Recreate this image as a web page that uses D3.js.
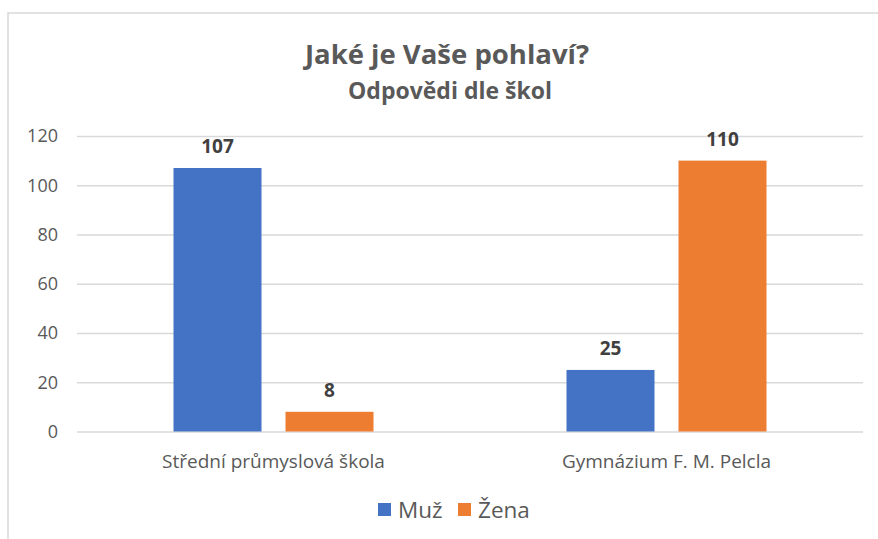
<!DOCTYPE html>
<html>
<head>
<meta charset="utf-8">
<script src="https://cdn.jsdelivr.net/npm/d3@7"></script>
<style>
  body { margin: 0; background: #fff; }
  svg { display: block; font-family: "Open Sans", sans-serif; }
</style>
</head>
<body>
<div id="chart"></div>
<script>
var schools = ['Střední průmyslová škola', 'Gymnázium F. M. Pelcla'];
var seriesNames = ['Muž', 'Žena'];
var muz = [107, 25];
var zena = [8, 110];
var yTicks = [0, 20, 40, 60, 80, 100, 120];

var colors = ['#4472c4', '#ed7d31'];
var width = 878, height = 539;

var plotLeft = 77, plotRight = 863;
var plotTop = 136, plotBottom = 431.5;

var svg = d3.select('#chart').append('svg')
    .attr('width', width)
    .attr('height', height);

// chart border (left + top only visible)
svg.append('path')
    .attr('d', 'M8,' + height + 'V13H' + width)
    .attr('fill', 'none')
    .attr('stroke', '#d9d9d9')
    .attr('stroke-width', 1.5);

var y = d3.scaleLinear().domain([0, 120]).range([plotBottom, plotTop]);
var x = d3.scaleBand().domain(schools).range([plotLeft, plotRight]);
var xInner = d3.scaleBand().domain(seriesNames)
    .range([96.5, 296.5])
    .paddingInner(24 / 112);

// gridlines + y labels
var yAxis = svg.append('g')
    .attr('transform', 'translate(' + plotLeft + ',0)')
    .call(d3.axisLeft(y).tickValues(yTicks).tickSize(-(plotRight - plotLeft)).tickPadding(19));
yAxis.select('.domain').remove();
yAxis.selectAll('.tick line').attr('stroke', '#d9d9d9').attr('stroke-width', 1.3);
yAxis.selectAll('.tick text')
    .attr('fill', '#595959')
    .style('font-size', '18px')
    .style('font-family', '"Open Sans", sans-serif');

// bars
var data = schools.map(function(s, i) {
    return { school: s, values: [muz[i], zena[i]] };
});

var groups = svg.selectAll('g.school')
    .data(data)
    .enter()
    .append('g')
    .attr('class', 'school')
    .attr('transform', function(d) { return 'translate(' + x(d.school) + ',0)'; });

groups.selectAll('rect')
    .data(function(d) { return d.values.map(function(v, j) { return { name: seriesNames[j], value: v, j: j }; }); })
    .enter()
    .append('rect')
    .attr('x', function(d) { return xInner(d.name); })
    .attr('y', function(d) { return y(d.value); })
    .attr('width', xInner.bandwidth())
    .attr('height', function(d) { return plotBottom - y(d.value); })
    .attr('fill', function(d) { return colors[d.j]; });

// data labels
groups.selectAll('text.val')
    .data(function(d) { return d.values.map(function(v, j) { return { name: seriesNames[j], value: v }; }); })
    .enter()
    .append('text')
    .attr('class', 'val')
    .attr('x', function(d) { return xInner(d.name) + xInner.bandwidth() / 2; })
    .attr('y', function(d) { return y(d.value) - 15; })
    .attr('text-anchor', 'middle')
    .attr('fill', '#404040')
    .style('font-size', '19px')
    .style('font-weight', 'bold')
    .text(function(d) { return d.value; });

// category labels
svg.selectAll('text.cat')
    .data(schools)
    .enter()
    .append('text')
    .attr('class', 'cat')
    .attr('x', function(d) { return x(d) + x.bandwidth() / 2; })
    .attr('y', 468)
    .attr('text-anchor', 'middle')
    .attr('fill', '#595959')
    .style('font-size', '19px')
    .text(function(d) { return d; });

// title
svg.append('text')
    .attr('x', 447)
    .attr('y', 64)
    .attr('text-anchor', 'middle')
    .attr('fill', '#595959')
    .style('font-size', '27.5px')
    .style('font-weight', 'bold')
    .text('Jaké je Vaše pohlaví?');

svg.append('text')
    .attr('x', 450)
    .attr('y', 99)
    .attr('text-anchor', 'middle')
    .attr('fill', '#595959')
    .style('font-size', '23px')
    .style('font-weight', 'bold')
    .text('Odpovědi dle škol');

// legend
var legendX = [378, 458];
var legend = svg.selectAll('g.legend')
    .data(seriesNames)
    .enter()
    .append('g')
    .attr('class', 'legend')
    .attr('transform', function(d, i) { return 'translate(' + legendX[i] + ',503)'; });

legend.append('rect')
    .attr('width', 13)
    .attr('height', 13)
    .attr('fill', function(d, i) { return colors[i]; });

legend.append('text')
    .attr('x', 20)
    .attr('y', 15)
    .attr('fill', '#595959')
    .style('font-size', '22.5px')
    .text(function(d) { return d; });
</script>
</body>
</html>
